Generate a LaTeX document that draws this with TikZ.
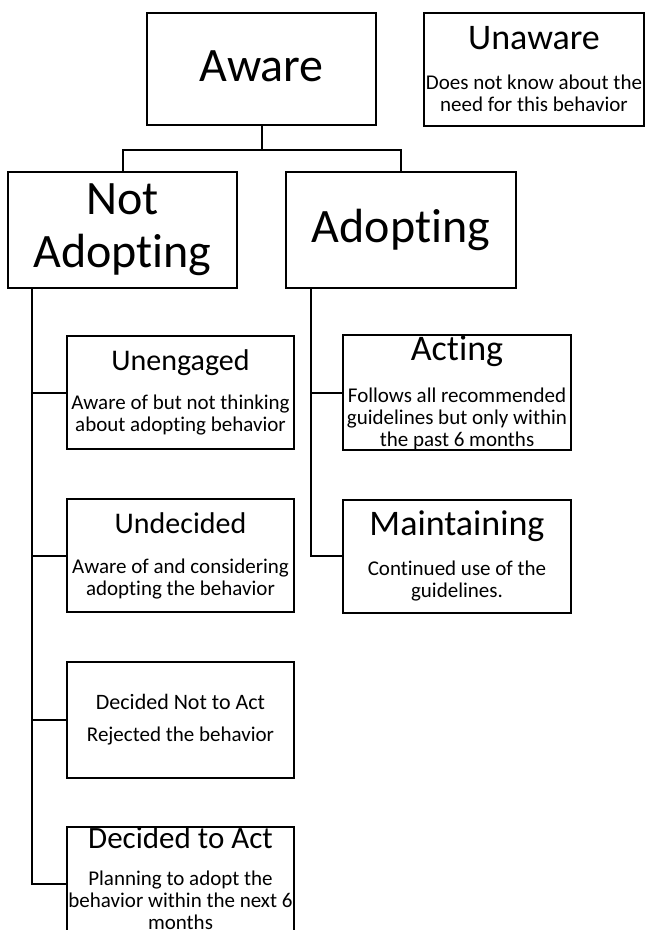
\documentclass[tikz,border=0pt]{standalone}
\usepackage{fontspec}
\setmainfont{Carlito}[Ligatures=NoCommon]
\usetikzlibrary{positioning}

\newcommand{\stagetitle}[2]{{\fontsize{#1}{#1}\selectfont #2}}

\begin{document}
\begin{tikzpicture}[x=1pt, y=-1pt, node distance=48pt,
    stage/.style={draw, line width=2pt, minimum width=229pt, minimum height=113pt,
        inner sep=0pt, align=center, font=\fontsize{21}{22}\selectfont},
    big/.style={font=\fontsize{48}{53}\selectfont},
    link/.style={line width=2pt}]
    \fill[white] (0,0) rectangle (647,930);
    \useasboundingbox (0,0) rectangle (647,930);
    \clip (0,0) rectangle (647,930);

    % top row
    \node[stage, big, minimum height=112pt, text depth=6pt] (aware) at (261.5,69) {Aware};
    \node[stage, minimum width=220pt, right=46pt of aware] (unaware) {\stagetitle{36}{Unaware}\\[18pt]Does not know about the\\need for this behavior};

    % second row
    \node[stage, big, minimum height=116pt] (notAdopting) at (122.5,230) {Not\\Adopting};
    \node[stage, big, minimum width=230pt, minimum height=116pt, right=47pt of notAdopting] (adopting) {Adopting};

    % not adopting column
    \node[stage, minimum width=227pt] (unengaged) at (180.5,392.5) {\stagetitle{30}{Unengaged}\\[17pt]Aware of but not thinking\\about adopting behavior};
    \node[stage, minimum width=227pt, below=of unengaged] (undecided) {\stagetitle{30}{Undecided}\\[18pt]Aware of and considering\\adopting the behavior};
    \node[stage, minimum width=227pt, minimum height=116pt, below=of undecided] (decidedNot) {\stagetitle{22}{Decided Not to Act}\\[10pt]Rejected the behavior};
    \node[stage, minimum width=227pt, below=47pt of decidedNot, text depth=10pt] (decidedAct) {\stagetitle{31}{Decided to Act}\\[15pt]Planning to adopt the\\behavior within the next 6\\months};

    % adopting column
    \node[stage, minimum width=228pt] (acting) at (457,392.5) {\stagetitle{36}{Acting}\\[20pt]Follows all recommended\\guidelines but only within\\the past 6 months};
    \node[stage, minimum width=228pt, below=of acting] (maintaining) {\stagetitle{36}{Maintaining}\\[18pt]Continued use of the\\guidelines.};

    % connectors
    \coordinate (split) at (261.5,150);
    \draw[link] (aware.south) -- (split);
    \draw[link] (split) -| (notAdopting.north);
    \draw[link] (split) -| (adopting.north);
    \foreach \child in {unengaged, undecided, decidedNot, decidedAct}
        \draw[link] ([xshift=25pt]notAdopting.south west) |- (\child.west);
    \foreach \child in {acting, maintaining}
        \draw[link] ([xshift=26pt]adopting.south west) |- (\child.west);
\end{tikzpicture}
\end{document}
